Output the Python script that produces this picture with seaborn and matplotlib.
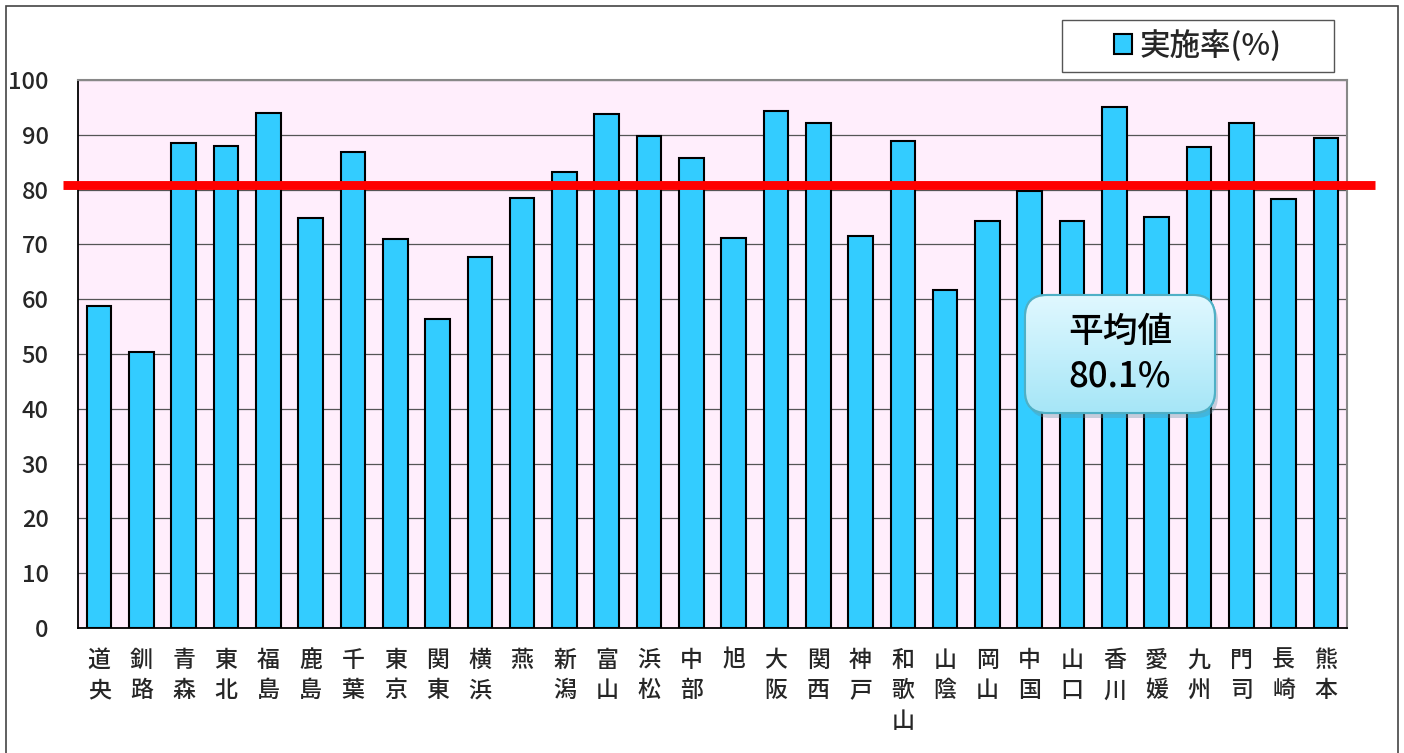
import numpy as np
import pandas as pd
import seaborn as sns
import matplotlib.pyplot as plt
from matplotlib.patches import Rectangle, FancyBboxPatch
from matplotlib.transforms import IdentityTransform

# data
offices = ["道央", "釧路", "青森", "東北", "福島", "鹿島", "千葉", "東京", "関東", "横浜",
           "燕", "新潟", "富山", "浜松", "中部", "旭", "大阪", "関西", "神戸", "和歌山",
           "山陰", "岡山", "中国", "山口", "香川", "愛媛", "九州", "門司", "長崎", "熊本"]
rates = [58.8, 50.4, 88.5, 88.0, 93.9, 74.8, 86.9, 71.0, 56.4, 67.7,
         78.4, 83.2, 93.8, 89.8, 85.7, 71.1, 94.3, 92.2, 71.5, 88.8,
         61.6, 74.2, 79.7, 74.3, 95.1, 75.0, 87.8, 92.2, 78.3, 89.4]
avg_label = "平均値\n80.1%"
avg_line_y = 80.8  # where the red line sits in the picture
y_ticks = list(range(0, 101, 10))
series_name = "実施率(%)"

sns.set_style("white")
plt.rcParams["font.family"] = ["Noto Sans CJK JP", "DejaVu Sans"]

W, H = 1404, 753
fig = plt.figure(figsize=(W / 100, H / 100), dpi=100)
ax = fig.add_axes([78 / W, 1 - 628 / H, (1347 - 78) / W, (628 - 80) / H])

df = pd.DataFrame({"office": offices, "rate": rates})
sns.barplot(data=df, x="office", y="rate", color="#33ccff", saturation=1,
            edgecolor="black", linewidth=1.5, width=0.58, label=series_name, ax=ax,
            zorder=3)
handles, labels = ax.get_legend_handles_labels()
if ax.get_legend() is not None:
    ax.get_legend().remove()

ax.set_facecolor("#ffeefc")
ax.set_ylim(0, 100)
ax.set_xlim(-0.5, len(offices) - 0.5)
ax.set_yticks(y_ticks)
ax.yaxis.grid(True, color="#555555", linewidth=0.9, zorder=0)
ax.set_axisbelow(True)
ax.set_xlabel("")
ax.set_ylabel("")
ax.set_xticks(range(len(offices)))
ax.set_xticklabels(["\n".join(n) for n in offices], fontsize=16.5, linespacing=1.42,
                   fontweight="medium")
for t in ax.get_yticklabels():
    t.set_fontweight("medium")
ax.set_xticks(np.arange(-0.5, len(offices), 1), minor=True)
ax.tick_params(axis="x", which="major", length=0, pad=15)
ax.tick_params(axis="x", which="minor", direction="in", length=5, color="#888888", width=1)
ax.tick_params(axis="y", length=3, color="#555555", labelsize=17, pad=18)
for s in ["left", "bottom"]:
    ax.spines[s].set_color("black")
    ax.spines[s].set_linewidth(1.3)
for s in ["top", "right"]:
    ax.spines[s].set_color("#888888")
    ax.spines[s].set_linewidth(1.5)

# average line, runs past the plot area
ax.axhline(avg_line_y, xmin=(63 - 78) / 1269, xmax=(1375 - 78) / 1269,
           color="#ff0000", linewidth=6.4, clip_on=False, zorder=5,
           solid_capstyle="butt")

# outer frame
fig.add_artist(Rectangle((6 / W, -0.01), (1398 - 6) / W, 1 - 6 / H + 0.01,
                         transform=fig.transFigure, fill=False,
                         edgecolor="#444444", linewidth=1.2))

# legend box
fig.add_artist(Rectangle((1062 / W, 1 - 72 / H), (1334 - 1062) / W, 52 / H,
                         transform=fig.transFigure, facecolor="white",
                         edgecolor="#555555", linewidth=1.0, zorder=4))
leg = fig.legend(handles[:1], labels[:1], loc="center",
                 bbox_to_anchor=(1198 / W, 1 - 46 / H), frameon=False,
                 fontsize=22, handlelength=0.6, handleheight=0.6, handletextpad=0.25,
                 prop={"size": 22, "weight": "medium"})

# callout with the average
x0, y0, bw, bh = 1025, H - 413, 190, 118
shadow = FancyBboxPatch((x0 + 3, y0 - 5), bw, bh, boxstyle="round,pad=0,rounding_size=22",
                        transform=IdentityTransform(), facecolor="#5c8fa0", alpha=0.35,
                        edgecolor="none", zorder=6)
fig.add_artist(shadow)
box = FancyBboxPatch((x0, y0), bw, bh, boxstyle="round,pad=0,rounding_size=22",
                     transform=IdentityTransform(), facecolor="#c4effb",
                     edgecolor="#4fb0c6", linewidth=1.5, zorder=7)
fig.add_artist(box)
cax = fig.add_axes([x0 / W, y0 / H, bw / W, bh / H], zorder=8)
cax.axis("off")
grad = np.linspace(0, 1, 100).reshape(-1, 1)
img = cax.imshow(grad, extent=(0, 1, 0, 1), aspect="auto", origin="upper",
                 cmap=sns.blend_palette(["#e0f8ff", "#a6e6f7"], as_cmap=True))
img.set_clip_path(box)
cax.set_xlim(0, 1)
cax.set_ylim(0, 1)
cax.text(0.5, 0.5, avg_label, ha="center", va="center", fontsize=25,
         linespacing=1.3, color="black", fontweight="medium")
edge = FancyBboxPatch((x0, y0), bw, bh, boxstyle="round,pad=0,rounding_size=22",
                      transform=IdentityTransform(), facecolor="none",
                      edgecolor="#4fb0c6", linewidth=1.5, zorder=9)
fig.add_artist(edge)

fig.savefig("out.png", dpi=100)
